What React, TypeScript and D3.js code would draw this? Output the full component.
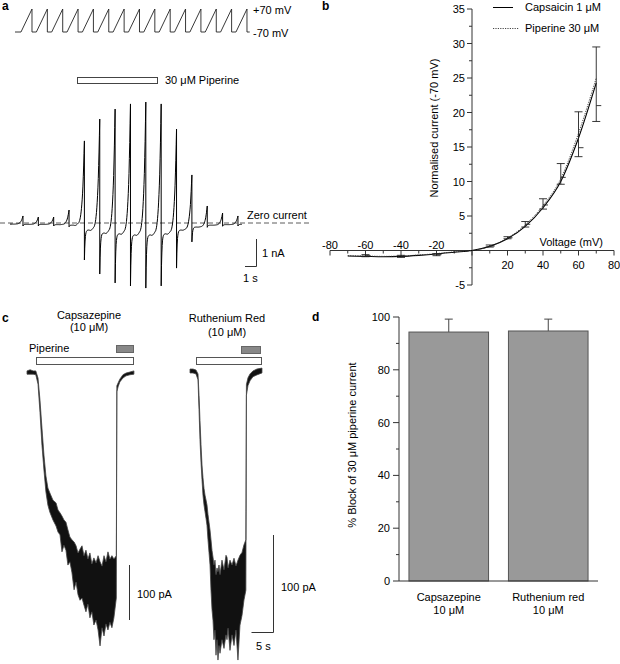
import * as d3 from "d3"

// ---- panel a: ramp protocol and whole-cell current ----
const rampCount = 15
const holdMv = -70
const stepMv = 70
const rampPeakNa = [0.26, 0.22, 0.22, 0.48, 3.04, 3.85, 4.22, 4.41, 4.48, 4.41, 3.48, 1.78, 0.63, 0.37, 0.26]
const tailTroughNa = [-0.11, -0.11, -0.11, -0.14, -1.37, -1.89, -2.22, -2.33, -2.41, -2.33, -1.67, -0.7, -0.16, -0.12, -0.11]
const holdAfterNa = [-0.05, -0.05, -0.06, -0.08, -0.26, -0.37, -0.4, -0.44, -0.44, -0.4, -0.26, -0.15, -0.08, -0.06, -0.05]
const startHoldNa = -0.04
const rampPeriodS = 1.396
const rampDurS = 1.0
const firstCurrentPeakS = 1.18
const firstVoltagePeakS = 1.545

// ---- panel b: normalised I-V ----
const ivVoltages = [-70, -60, -50, -40, -30, -20, -10, 0, 10, 20, 30, 40, 50, 60, 70]
const capsaicinIV = [-0.8, -0.85, -0.9, -0.85, -0.7, -0.5, -0.25, 0, 0.6, 1.7, 3.5, 6.2, 10.0, 16.3, 24.3]
const piperineIV = [-0.75, -0.8, -0.85, -0.8, -0.65, -0.45, -0.2, 0, 0.6, 1.8, 3.7, 6.5, 10.4, 17.0, 25.0]
const errVoltages = [-60, -40, -20, 10, 20, 30, 40, 50, 60, 70]
const errMean = [-0.75, -0.85, -0.6, 0.65, 1.85, 3.8, 6.6, 10.6, 14.9, 21.0]
const errHigh = [-0.6, -0.7, -0.45, 0.8, 2.0, 4.2, 7.5, 12.6, 20.1, 29.5]
const errLow = [-0.9, -1.0, -0.75, 0.5, 1.7, 3.4, 6.0, 9.6, 13.6, 18.7]
const ivXTicks = [-80, -60, -40, -20, 0, 20, 40, 60, 80]
const ivXMinor = [-70, -50, -30, -10, 10, 30, 50, 70]
const ivYTicks = [-5, 0, 5, 10, 15, 20, 25, 30, 35]
const ivYMinor = [-2.5, 2.5, 7.5, 12.5, 17.5, 22.5, 27.5, 32.5]

// ---- panel c: piperine currents (upper / lower envelope of noisy trace, pA) ----
const leftTimes = [0, 0.7, 1.4, 2.0, 2.5, 2.95, 3.4, 3.85, 4.3, 4.75, 5.2, 5.9, 6.6, 7.05, 7.5, 7.95, 8.4, 8.85, 9.3, 9.75, 10.2, 10.7, 11.15, 11.6, 12.05, 12.5, 12.95, 13.4, 13.85, 14.3, 14.75, 15.2, 15.7, 16.15, 16.6, 17.05, 17.5, 17.95, 18.4, 18.85, 19.3, 19.75, 20.3, 20.42, 20.7, 21.1, 21.8, 22.5, 23.4, 24.3]
const leftHi = [2, 4, 2, 2, -11, -51, -102, -151, -189, -211, -220, -233, -238, -251, -256, -262, -269, -273, -287, -300, -305, -309, -316, -329, -322, -316, -334, -324, -340, -329, -349, -338, -347, -334, -345, -353, -334, -345, -327, -340, -334, -340, -334, -25, -20, -13, -5, -2, 0, 2]
const leftLo = [-4, -4, -4, -5, -22, -73, -133, -178, -218, -242, -255, -269, -280, -291, -296, -327, -315, -324, -351, -345, -364, -396, -382, -405, -415, -411, -424, -436, -422, -447, -436, -460, -451, -469, -498, -465, -480, -458, -469, -455, -465, -447, -411, -36, -27, -18, -11, -7, -5, -4]
const rightTimes = [0, 0.68, 1.36, 1.82, 2.05, 2.27, 2.5, 2.73, 2.95, 3.18, 3.41, 3.64, 3.86, 4.09, 4.32, 4.55, 4.77, 5.0, 5.23, 5.45, 5.68, 5.91, 6.14, 6.36, 6.59, 6.82, 7.27, 7.73, 8.18, 8.41, 8.64, 9.09, 9.55, 10.0, 10.45, 10.9, 11.36, 11.82, 12.27, 12.7, 12.82, 13.18, 13.64, 14.3, 15.2, 16.36]
const rightHi = [2, 2, 1, -3, -25, -51, -76, -97, -110, -121, -128, -133, -138, -148, -156, -164, -174, -185, -192, -200, -195, -210, -203, -207, -200, -210, -195, -205, -190, -192, -203, -195, -200, -193, -201, -195, -190, -187, -179, -174, -14, -7, -3, 0, 2, 3]
const rightLo = [-2, -2, -3, -9, -40, -71, -94, -112, -128, -138, -145, -152, -159, -174, -187, -200, -226, -246, -257, -277, -267, -293, -277, -298, -283, -291, -277, -286, -272, -277, -265, -288, -272, -283, -267, -298, -262, -252, -236, -226, -25, -15, -10, -6, -4, -2]

// ---- panel d: % block ----
const blockers = ["Capsazepine", "Ruthenium red"]
const blockMean = [94.3, 94.7]
const blockSem = [4.9, 4.5]
const blockTicks = [0, 20, 40, 60, 80, 100]
const blockMinor = [10, 30, 50, 70, 90]

const FONT = "'Liberation Sans', Arial, Helvetica, sans-serif"

function PanelA() {
  // voltage protocol
  const vx = d3.scaleLinear().domain([0, 1]).range([15, 26])
  const vy = d3.scaleLinear().domain([holdMv, stepMv]).range([32, 9])
  const vPts: [number, number][] = [[0, holdMv]]
  for (let i = 0; i < rampCount; i++) {
    const pk = firstVoltagePeakS + i * rampPeriodS
    vPts.push([pk - rampDurS, holdMv], [pk, stepMv], [pk, holdMv])
  }
  vPts.push([firstVoltagePeakS + (rampCount - 1) * rampPeriodS + 0.25, holdMv])
  const vLine = d3.line<[number, number]>().x((d) => vx(d[0])).y((d) => vy(d[1]))

  // current trace
  const ix = d3.scaleLinear().domain([0, 1]).range([10, 21])
  const iy = d3.scaleLinear().domain([0, 1]).range([223, 196])
  const iv = d3.scaleLinear().domain(ivVoltages).range(capsaicinIV)
  const ivLo = iv(holdMv)
  const ivHi = iv(stepMv)
  const shape = (v: number) => (iv(v) - ivLo) / (ivHi - ivLo)
  const pts: [number, number][] = [[0, startHoldNa]]
  let prev = startHoldNa
  for (let i = 0; i < rampCount; i++) {
    const pk = firstCurrentPeakS + i * rampPeriodS
    const t0 = pk - rampDurS
    pts.push([t0, prev])
    for (let k = 1; k <= 30; k++) {
      const u = k / 30
      pts.push([t0 + u * rampDurS, prev + (rampPeakNa[i] - prev) * shape(holdMv + (stepMv - holdMv) * u)])
    }
    pts.push([pk, tailTroughNa[i]])
    for (let k = 1; k <= 12; k++) {
      const dt = k * 0.03
      pts.push([pk + dt, holdAfterNa[i] + (tailTroughNa[i] - holdAfterNa[i]) * Math.exp(-dt / 0.06)])
    }
    prev = holdAfterNa[i]
  }
  const iLine = d3.line<[number, number]>().x((d) => ix(d[0])).y((d) => iy(d[1]))

  // scale bar: 1 nA x 1 s
  const barX = 256
  const barBottom = 266
  const barH = iy(0) - iy(1)
  const barW = ix(1) - ix(0)

  return (
    <g>
      <text x={2} y={10} fontSize={12} fontWeight="bold">a</text>
      <path d={vLine(vPts) ?? ""} fill="none" stroke="#222" strokeWidth={0.9} />
      <text x={253} y={14} fontSize={11}>+70 mV</text>
      <text x={253} y={37} fontSize={11}>-70 mV</text>
      <rect x={77.5} y={77.5} width={80} height={6} fill="#fff" stroke="#444" strokeWidth={1} />
      <text x={165} y={84} fontSize={11}>30 μM Piperine</text>
      <line x1={0} x2={310} y1={iy(0)} y2={iy(0)} stroke="#333" strokeWidth={0.8} strokeDasharray="5 3" />
      <text x={247} y={219} fontSize={11}>Zero current</text>
      <path d={iLine(pts) ?? ""} fill="none" stroke="#000" strokeWidth={1} />
      <path d={`M${barX + 0.5},${barBottom - barH} V${barBottom + 0.5} H${barX - barW}`} fill="none" stroke="#333" strokeWidth={1} />
      <text x={262} y={257} fontSize={11}>1 nA</text>
      <text x={243} y={282} fontSize={11}>1 s</text>
    </g>
  )
}

function PanelB() {
  const x = d3.scaleLinear().domain([-80, 80]).range([330, 614])
  const y = d3.scaleLinear().domain([-5, 35]).range([285, 9])
  const line = (vals: number[]) =>
    d3
      .line<number>()
      .x((_, i) => x(ivVoltages[i]))
      .y((d) => y(d))
      .curve(d3.curveMonotoneX)(vals) ?? ""
  return (
    <g>
      <text x={322} y={10} fontSize={12} fontWeight="bold">b</text>
      {/* y axis */}
      <line x1={x(0)} x2={x(0)} y1={y(35)} y2={y(-5)} stroke="#333" />
      {ivYTicks.map((t) => (
        <g key={t}>
          <line x1={x(0) - 5} x2={x(0)} y1={y(t)} y2={y(t)} stroke="#333" />
          {t !== 0 && (
            <text x={x(0) - 7} y={y(t) + 4} fontSize={11} textAnchor="end">{t}</text>
          )}
        </g>
      ))}
      {ivYMinor.map((t) => (
        <line key={t} x1={x(0) - 3} x2={x(0)} y1={y(t)} y2={y(t)} stroke="#333" />
      ))}
      {/* x axis */}
      <line x1={x(-80)} x2={x(80)} y1={y(0)} y2={y(0)} stroke="#333" />
      {ivXTicks.map((t) => (
        <g key={t}>
          <line x1={x(t)} x2={x(t)} y1={y(0)} y2={y(0) + 5} stroke="#333" />
          {t !== 0 && (
            <text x={x(t)} y={t < 0 ? y(0) - 2 : y(0) + 18} fontSize={11} textAnchor="middle">{t}</text>
          )}
        </g>
      ))}
      {ivXMinor.map((t) => (
        <line key={t} x1={x(t)} x2={x(t)} y1={y(0)} y2={y(0) + 3} stroke="#333" />
      ))}
      <text x={603} y={246} fontSize={11} textAnchor="end">Voltage (mV)</text>
      <text transform={`translate(438,128) rotate(-90)`} fontSize={11} textAnchor="middle">Normalised current (-70 mV)</text>
      {/* curves */}
      <path d={line(capsaicinIV)} fill="none" stroke="#000" strokeWidth={1.1} />
      <path d={line(piperineIV)} fill="none" stroke="#333" strokeWidth={0.9} strokeDasharray="1.2 1.2" />
      {/* error bars */}
      {errVoltages.map((v, i) => (
        <g key={v} stroke="#222" strokeWidth={0.9}>
          <line x1={x(v)} x2={x(v)} y1={y(errHigh[i])} y2={y(errLow[i])} />
          <line x1={x(v) - 4} x2={x(v) + 4} y1={y(errHigh[i])} y2={y(errHigh[i])} />
          <line x1={x(v) - 4} x2={x(v) + 4} y1={y(errLow[i])} y2={y(errLow[i])} />
          <line x1={x(v)} x2={x(v) + 5} y1={y(errMean[i])} y2={y(errMean[i])} />
        </g>
      ))}
      {/* legend */}
      <line x1={493} x2={513} y1={7.5} y2={7.5} stroke="#000" strokeWidth={1} />
      <text x={525} y={11} fontSize={11}>Capsaicin 1 μM</text>
      <line x1={493} x2={519} y1={28.5} y2={28.5} stroke="#333" strokeWidth={0.9} strokeDasharray="1.2 1.2" />
      <text x={525} y={32} fontSize={11}>Piperine 30 μM</text>
    </g>
  )
}

function NoisyTrace({ times, hi, lo, x, y }: { times: number[]; hi: number[]; lo: number[]; x: d3.ScaleLinear<number, number>; y: d3.ScaleLinear<number, number> }) {
  const area = d3
    .area<number>()
    .x((t) => x(t))
    .y0((_, i) => y(hi[i]))
    .y1((_, i) => y(lo[i]))
  return <path d={area(times) ?? ""} fill="#111" stroke="#444" strokeWidth={0.8} strokeLinejoin="round" />
}

function PanelC() {
  const lx = d3.scaleLinear().domain([0, 1]).range([27, 31.4])
  const ly = d3.scaleLinear().domain([0, -100]).range([372, 427])
  const rx = d3.scaleLinear().domain([0, 1]).range([190, 194.4])
  const ry = d3.scaleLinear().domain([0, -100]).range([371, 468])
  const lBar = ly(-100) - ly(0)
  const rBar = ry(-100) - ry(0)
  const sBar = rx(5) - rx(0)
  return (
    <g>
      <text x={2} y={322} fontSize={12} fontWeight="bold">c</text>
      <text x={89} y={319} fontSize={11} textAnchor="middle">Capsazepine</text>
      <text x={89} y={331} fontSize={11} textAnchor="middle">(10 μM)</text>
      <text x={227} y={322} fontSize={11} textAnchor="middle">Ruthenium Red</text>
      <text x={227} y={336} fontSize={11} textAnchor="middle">(10 μM)</text>
      <text x={29} y={352} fontSize={11}>Piperine</text>
      <rect x={116.5} y={345.5} width={17} height={7} fill="#888" stroke="#666" />
      <rect x={36.5} y={357.5} width={97} height={7} fill="#fff" stroke="#555" />
      <rect x={241.5} y={346.5} width={19} height={7} fill="#888" stroke="#666" />
      <rect x={196.5} y={357.5} width={65} height={7} fill="#fff" stroke="#555" />
      <NoisyTrace times={leftTimes} hi={leftHi} lo={leftLo} x={lx} y={ly} />
      <NoisyTrace times={rightTimes} hi={rightHi} lo={rightLo} x={rx} y={ry} />
      <line x1={129.5} x2={129.5} y1={565} y2={565 + lBar} stroke="#333" />
      <text x={137} y={598} fontSize={11}>100 pA</text>
      <path d={`M273.5,535 V${535 + rBar + 0.5} H${273.5 - sBar}`} fill="none" stroke="#333" />
      <text x={281} y={591} fontSize={11}>100 pA</text>
      <text x={256} y={650} fontSize={11}>5 s</text>
    </g>
  )
}

function PanelD() {
  const x = d3.scaleBand<string>().domain(blockers).range([399, 598]).paddingInner(0.2).paddingOuter(0.1)
  const y = d3.scaleLinear().domain([0, 100]).range([581, 317])
  return (
    <g>
      <text x={312} y={321} fontSize={12} fontWeight="bold">d</text>
      {blockers.map((b, i) => {
        const cx = (x(b) ?? 0) + x.bandwidth() / 2
        const top = y(blockMean[i] + blockSem[i])
        return (
          <g key={b}>
            <line x1={cx} x2={cx} y1={y(blockMean[i])} y2={top} stroke="#444" />
            <line x1={cx - 4} x2={cx + 4} y1={top} y2={top} stroke="#444" />
            <rect x={x(b)} y={y(blockMean[i])} width={x.bandwidth()} height={y(0) - y(blockMean[i])} fill="#999" stroke="#555" strokeWidth={1} />
            <text x={cx} y={601} fontSize={11} textAnchor="middle">{b}</text>
            <text x={cx} y={614} fontSize={11} textAnchor="middle">10 μM</text>
          </g>
        )
      })}
      <line x1={399} x2={399} y1={y(100)} y2={y(0)} stroke="#333" />
      <line x1={399} x2={598} y1={y(0)} y2={y(0)} stroke="#333" />
      {blockTicks.map((t) => (
        <g key={t}>
          <line x1={393} x2={399} y1={y(t)} y2={y(t)} stroke="#333" />
          <text x={390} y={y(t) + 4} fontSize={11} textAnchor="end">{t}</text>
        </g>
      ))}
      {blockMinor.map((t) => (
        <line key={t} x1={396} x2={399} y1={y(t)} y2={y(t)} stroke="#333" />
      ))}
      <text transform="translate(356,445) rotate(-90)" fontSize={11} textAnchor="middle">% Block of 30 μM piperine current</text>
    </g>
  )
}

export default function App() {
  return (
    <svg width={620} height={664} style={{ position: "absolute", left: 0, top: 0, background: "#fff" }} fontFamily={FONT} fill="#000">
      <PanelA />
      <PanelB />
      <PanelC />
      <PanelD />
    </svg>
  )
}
